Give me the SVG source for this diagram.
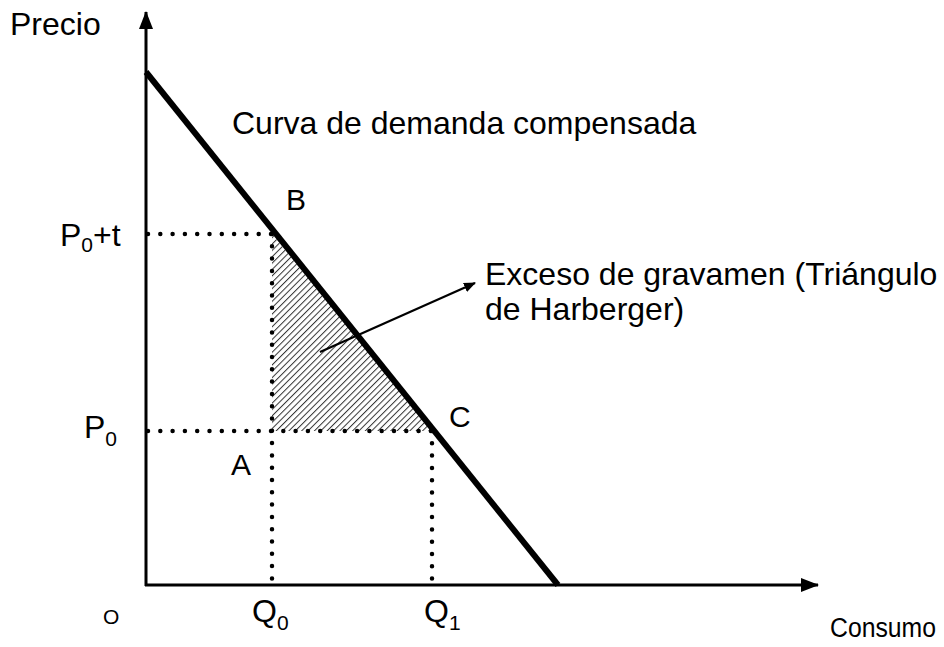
<svg xmlns="http://www.w3.org/2000/svg" width="944" height="647" viewBox="0 0 944 647">
<style>
text{font-family:"Liberation Sans",Arial,sans-serif;fill:#000}
.big{font-size:32px}
.lbl{font-size:30px}
.sub{font-size:21px}
.axis{stroke:#000;stroke-width:3;fill:none}
.dots{stroke:#000;stroke-width:4.5;stroke-linecap:round;stroke-dasharray:0 12.3;fill:none}
</style>
<defs>
<marker id="ah" markerWidth="12" markerHeight="10" refX="11" refY="5" orient="auto" markerUnits="userSpaceOnUse" viewBox="0 0 12 10">
<path d="M0,0 L12,5 L0,10 Z" fill="#000"/>
</marker>
<marker id="axh" markerWidth="18" markerHeight="14" refX="17" refY="7" orient="auto" markerUnits="userSpaceOnUse" viewBox="0 0 18 14">
<path d="M0,0 L18,7 L0,14 Z" fill="#000"/>
</marker>
<pattern id="hatch" width="4.5" height="4.5" patternUnits="userSpaceOnUse" patternTransform="rotate(45)">
<rect width="4.5" height="4.5" fill="#fff"/>
<line x1="0" y1="0" x2="0" y2="4.5" stroke="#333" stroke-width="2"/>
</pattern>
</defs>
<g id="triangle">
<path d="M272,234 L272,431 L434,431 Z" fill="url(#hatch)"/>
</g>
<g id="connectors">
<line class="dots" x1="148" y1="234" x2="272" y2="234"/>
<line class="dots" x1="148" y1="431" x2="432" y2="431"/>
<line class="dots" x1="272" y1="234" x2="272" y2="580"/>
<line class="dots" x1="432" y1="431" x2="432" y2="580"/>
<line class="axis" x1="146" y1="586" x2="146" y2="12" marker-end="url(#axh)"/>
<line class="axis" x1="145" y1="585" x2="818" y2="585" marker-end="url(#axh)"/>
<line id="demand" x1="146" y1="72" x2="558" y2="585" stroke="#000" stroke-width="6"/>
<line x1="320" y1="352" x2="475" y2="283" stroke="#000" stroke-width="2.2" marker-end="url(#ah)"/>
</g>
<g id="labels">
<text class="big" x="10" y="35">Precio</text>
<text class="big" x="232" y="134">Curva de demanda compensada</text>
<text class="lbl" x="286" y="210">B</text>
<text class="lbl" x="449" y="427">C</text>
<text class="lbl" x="231" y="475">A</text>
<text class="big" x="485" y="285">Exceso de gravamen (Triángulo</text>
<text class="big" x="485" y="320">de Harberger)</text>
<text class="big" x="60" y="246">P<tspan class="sub" dy="6">0</tspan><tspan dy="-6">+t</tspan></text>
<text class="big" x="84" y="438">P<tspan class="sub" dy="8">0</tspan></text>
<text class="sub" x="103" y="624">O</text>
<text class="big" x="252" y="622">Q<tspan class="sub" dy="8">0</tspan></text>
<text class="big" x="424" y="622">Q<tspan class="sub" dy="8">1</tspan></text>
<text x="830" y="637" style="font-size:27px" textLength="106" lengthAdjust="spacingAndGlyphs">Consumo</text>
</g>
</svg>
